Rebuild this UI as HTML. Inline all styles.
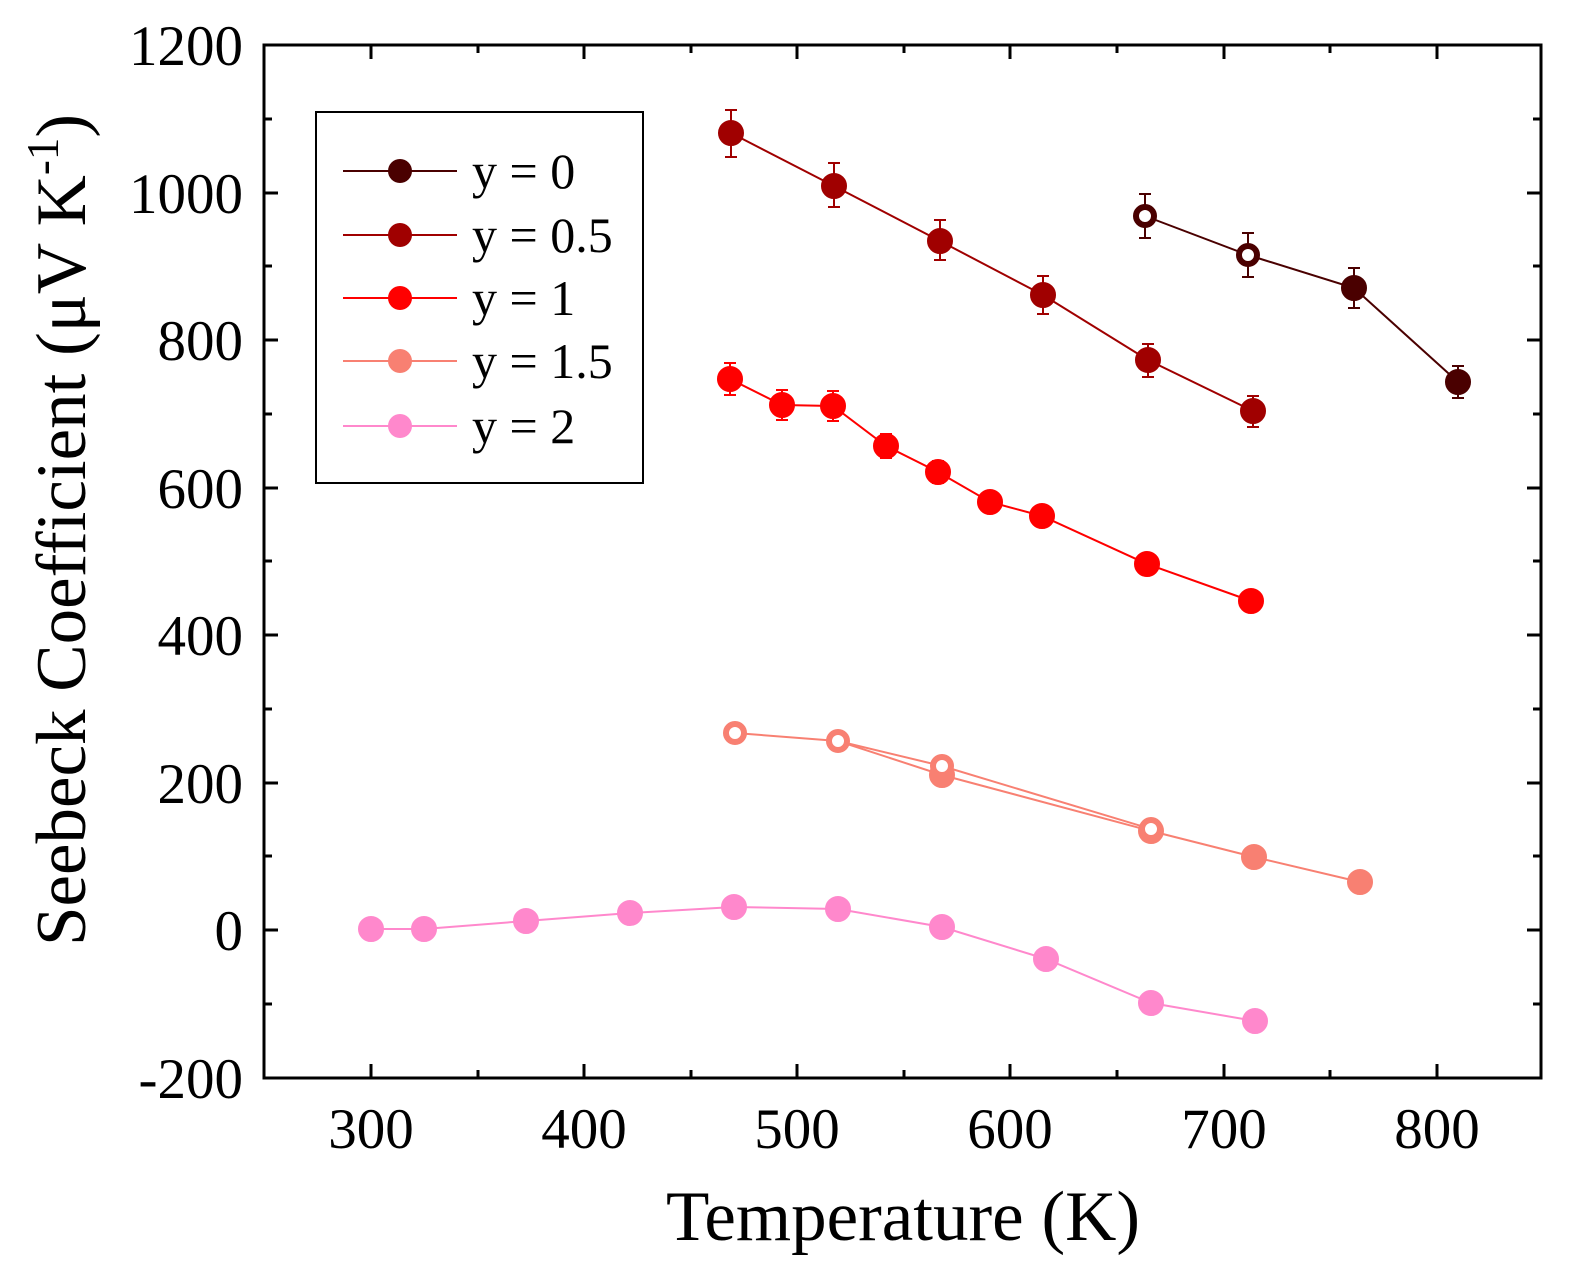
<!DOCTYPE html>
<html><head><meta charset="utf-8"><style>body{margin:0;background:#fff}</style></head><body>
<svg width="1582" height="1281" viewBox="0 0 1582 1281" xmlns="http://www.w3.org/2000/svg" font-family="Liberation Serif, serif">
<rect width="1582" height="1281" fill="#fff"/>
<g stroke="#000" stroke-width="3">
<rect x="264" y="45" width="1277" height="1033" fill="none"/>
<path d="M371 1078v-14M584 1078v-14M797 1078v-14M1010 1078v-14M1224 1078v-14M1437 1078v-14
M478 1078v-8M691 1078v-8M904 1078v-8M1117 1078v-8M1330 1078v-8
M371 45v14M584 45v14M797 45v14M1010 45v14M1224 45v14M1437 45v14
M478 45v8M691 45v8M904 45v8M1117 45v8M1330 45v8"/>
<path d="M264 45h14M264 193h14M264 340h14M264 488h14M264 635h14M264 783h14M264 930h14
M264 119h8M264 266h8M264 414h8M264 561h8M264 709h8M264 856h8M264 1004h8
M1541 45h-14M1541 193h-14M1541 340h-14M1541 488h-14M1541 635h-14M1541 783h-14M1541 930h-14
M1541 119h-8M1541 266h-8M1541 414h-8M1541 561h-8M1541 709h-8M1541 856h-8M1541 1004h-8"/>
</g>
<g font-size="57" text-anchor="middle" fill="#000">
<text x="371" y="1148">300</text><text x="584" y="1148">400</text><text x="797" y="1148">500</text>
<text x="1010" y="1148">600</text><text x="1224" y="1148">700</text><text x="1437" y="1148">800</text>
</g>
<g font-size="57" text-anchor="end" fill="#000">
<text x="243" y="65">1200</text><text x="243" y="213">1000</text><text x="243" y="360">800</text>
<text x="243" y="508">600</text><text x="243" y="655">400</text><text x="243" y="803">200</text>
<text x="243" y="950">0</text><text x="243" y="1098">-200</text>
</g>
<text x="903" y="1240" font-size="71" text-anchor="middle">Temperature (K)</text>
<text transform="translate(85,530) rotate(-90)" font-size="71" text-anchor="middle">Seebeck Coefficient (μV K<tspan dy="-27" font-size="45">-1</tspan><tspan dy="27">)</tspan></text>

<g stroke="#4a0000" fill="#4a0000" stroke-width="2">
<polyline fill="none" points="1145,216 1248,255 1354,288 1458,382"/>
<path d="M1145 194v44M1139 194h12M1139 238h12M1248 233v44M1242 233h12M1242 277h12M1354 268v40M1348 268h12M1348 308h12M1458 366v32M1452 366h12M1452 398h12"/>
<circle cx="1354" cy="288" r="12"/><circle cx="1458" cy="382" r="12"/>
<circle cx="1145" cy="216" r="9" fill="#fff" stroke-width="6"/><circle cx="1248" cy="255" r="9" fill="#fff" stroke-width="6"/>
</g>
<g stroke="#a00000" fill="#a00000" stroke-width="2">
<polyline fill="none" points="731,133 834,186 940,241 1043,295 1148,360 1253,411"/>
<path d="M731 110v47M725 110h12M725 157h12M834 163v44M828 163h12M828 207h12M940 220v40M934 220h12M934 260h12M1043 276v38M1037 276h12M1037 314h12M1148 344v33M1142 344h12M1142 377h12M1253 396v31M1247 396h12M1247 427h12"/>
<circle cx="731" cy="133" r="12"/><circle cx="834" cy="186" r="12"/><circle cx="940" cy="241" r="12"/><circle cx="1043" cy="295" r="12"/><circle cx="1148" cy="360" r="12"/><circle cx="1253" cy="411" r="12"/>
</g>
<g stroke="#ff0000" fill="#ff0000" stroke-width="2">
<polyline fill="none" points="730,379 782,405 833,406 886,446 938,472 990,502 1042,516 1147,564 1251,601"/>
<path d="M730 363v32M724 363h12M724 395h12M782 390v30M776 390h12M776 420h12M833 391v30M827 391h12M827 421h12M886 434v24M880 434h12M880 458h12M938 461v22M932 461h12M932 483h12M990 492v20M984 492h12M984 512h12M1042 506v20M1036 506h12M1036 526h12M1147 555v18M1141 555h12M1141 573h12M1251 593v16M1245 593h12M1245 609h12"/>
<circle cx="730" cy="379" r="12"/><circle cx="782" cy="405" r="12"/><circle cx="833" cy="406" r="12"/><circle cx="886" cy="446" r="12"/><circle cx="938" cy="472" r="12"/><circle cx="990" cy="502" r="12"/><circle cx="1042" cy="516" r="12"/><circle cx="1147" cy="564" r="12"/><circle cx="1251" cy="601" r="12"/>
</g>
<g stroke="#f88072" fill="#f88072" stroke-width="2">
<polyline fill="none" points="735,733 838,741 942,766 1151,829"/>
<polyline fill="none" points="838,741 942,775 1151,831 1254,857 1360,882"/>
<circle cx="942" cy="775" r="12"/><circle cx="1151" cy="831" r="12"/><circle cx="1254" cy="857" r="12"/><circle cx="1360" cy="882" r="12"/>
<circle cx="735" cy="733" r="9" fill="#fff" stroke-width="6"/><circle cx="838" cy="741" r="9" fill="#fff" stroke-width="6"/><circle cx="942" cy="766" r="9" fill="#fff" stroke-width="6"/><circle cx="1151" cy="829" r="9" fill="#fff" stroke-width="6"/>
</g>
<g stroke="#ff88cc" fill="#ff88cc" stroke-width="2">
<polyline fill="none" points="371,929 424,929 526,921 630,913 734,907 838,909 942,927 1046,959 1151,1003 1255,1021"/>
<circle cx="371" cy="929" r="12"/><circle cx="424" cy="929" r="12"/><circle cx="526" cy="921" r="12"/><circle cx="630" cy="913" r="12"/><circle cx="734" cy="907" r="12"/><circle cx="838" cy="909" r="12"/><circle cx="942" cy="927" r="12"/><circle cx="1046" cy="959" r="12"/><circle cx="1151" cy="1003" r="12"/><circle cx="1255" cy="1021" r="12"/>
</g>
<rect x="316" y="112" width="327" height="371" fill="#fff" stroke="#000" stroke-width="2"/>
<g stroke-width="2">
<path d="M343 171h114" stroke="#4a0000"/><circle cx="400" cy="171" r="12" fill="#4a0000"/>
<path d="M343 235h114" stroke="#a00000"/><circle cx="400" cy="235" r="12" fill="#a00000"/>
<path d="M343 298h114" stroke="#ff0000"/><circle cx="400" cy="298" r="12" fill="#ff0000"/>
<path d="M343 361h114" stroke="#f88072"/><circle cx="400" cy="361" r="12" fill="#f88072"/>
<path d="M343 426h114" stroke="#ff88cc"/><circle cx="400" cy="426" r="12" fill="#ff88cc"/>
</g>
<g font-size="50" fill="#000">
<text x="472" y="188">y = 0</text><text x="472" y="252">y = 0.5</text><text x="472" y="315">y = 1</text><text x="472" y="378">y = 1.5</text><text x="472" y="443">y = 2</text>
</g>
</svg>
</body></html>
